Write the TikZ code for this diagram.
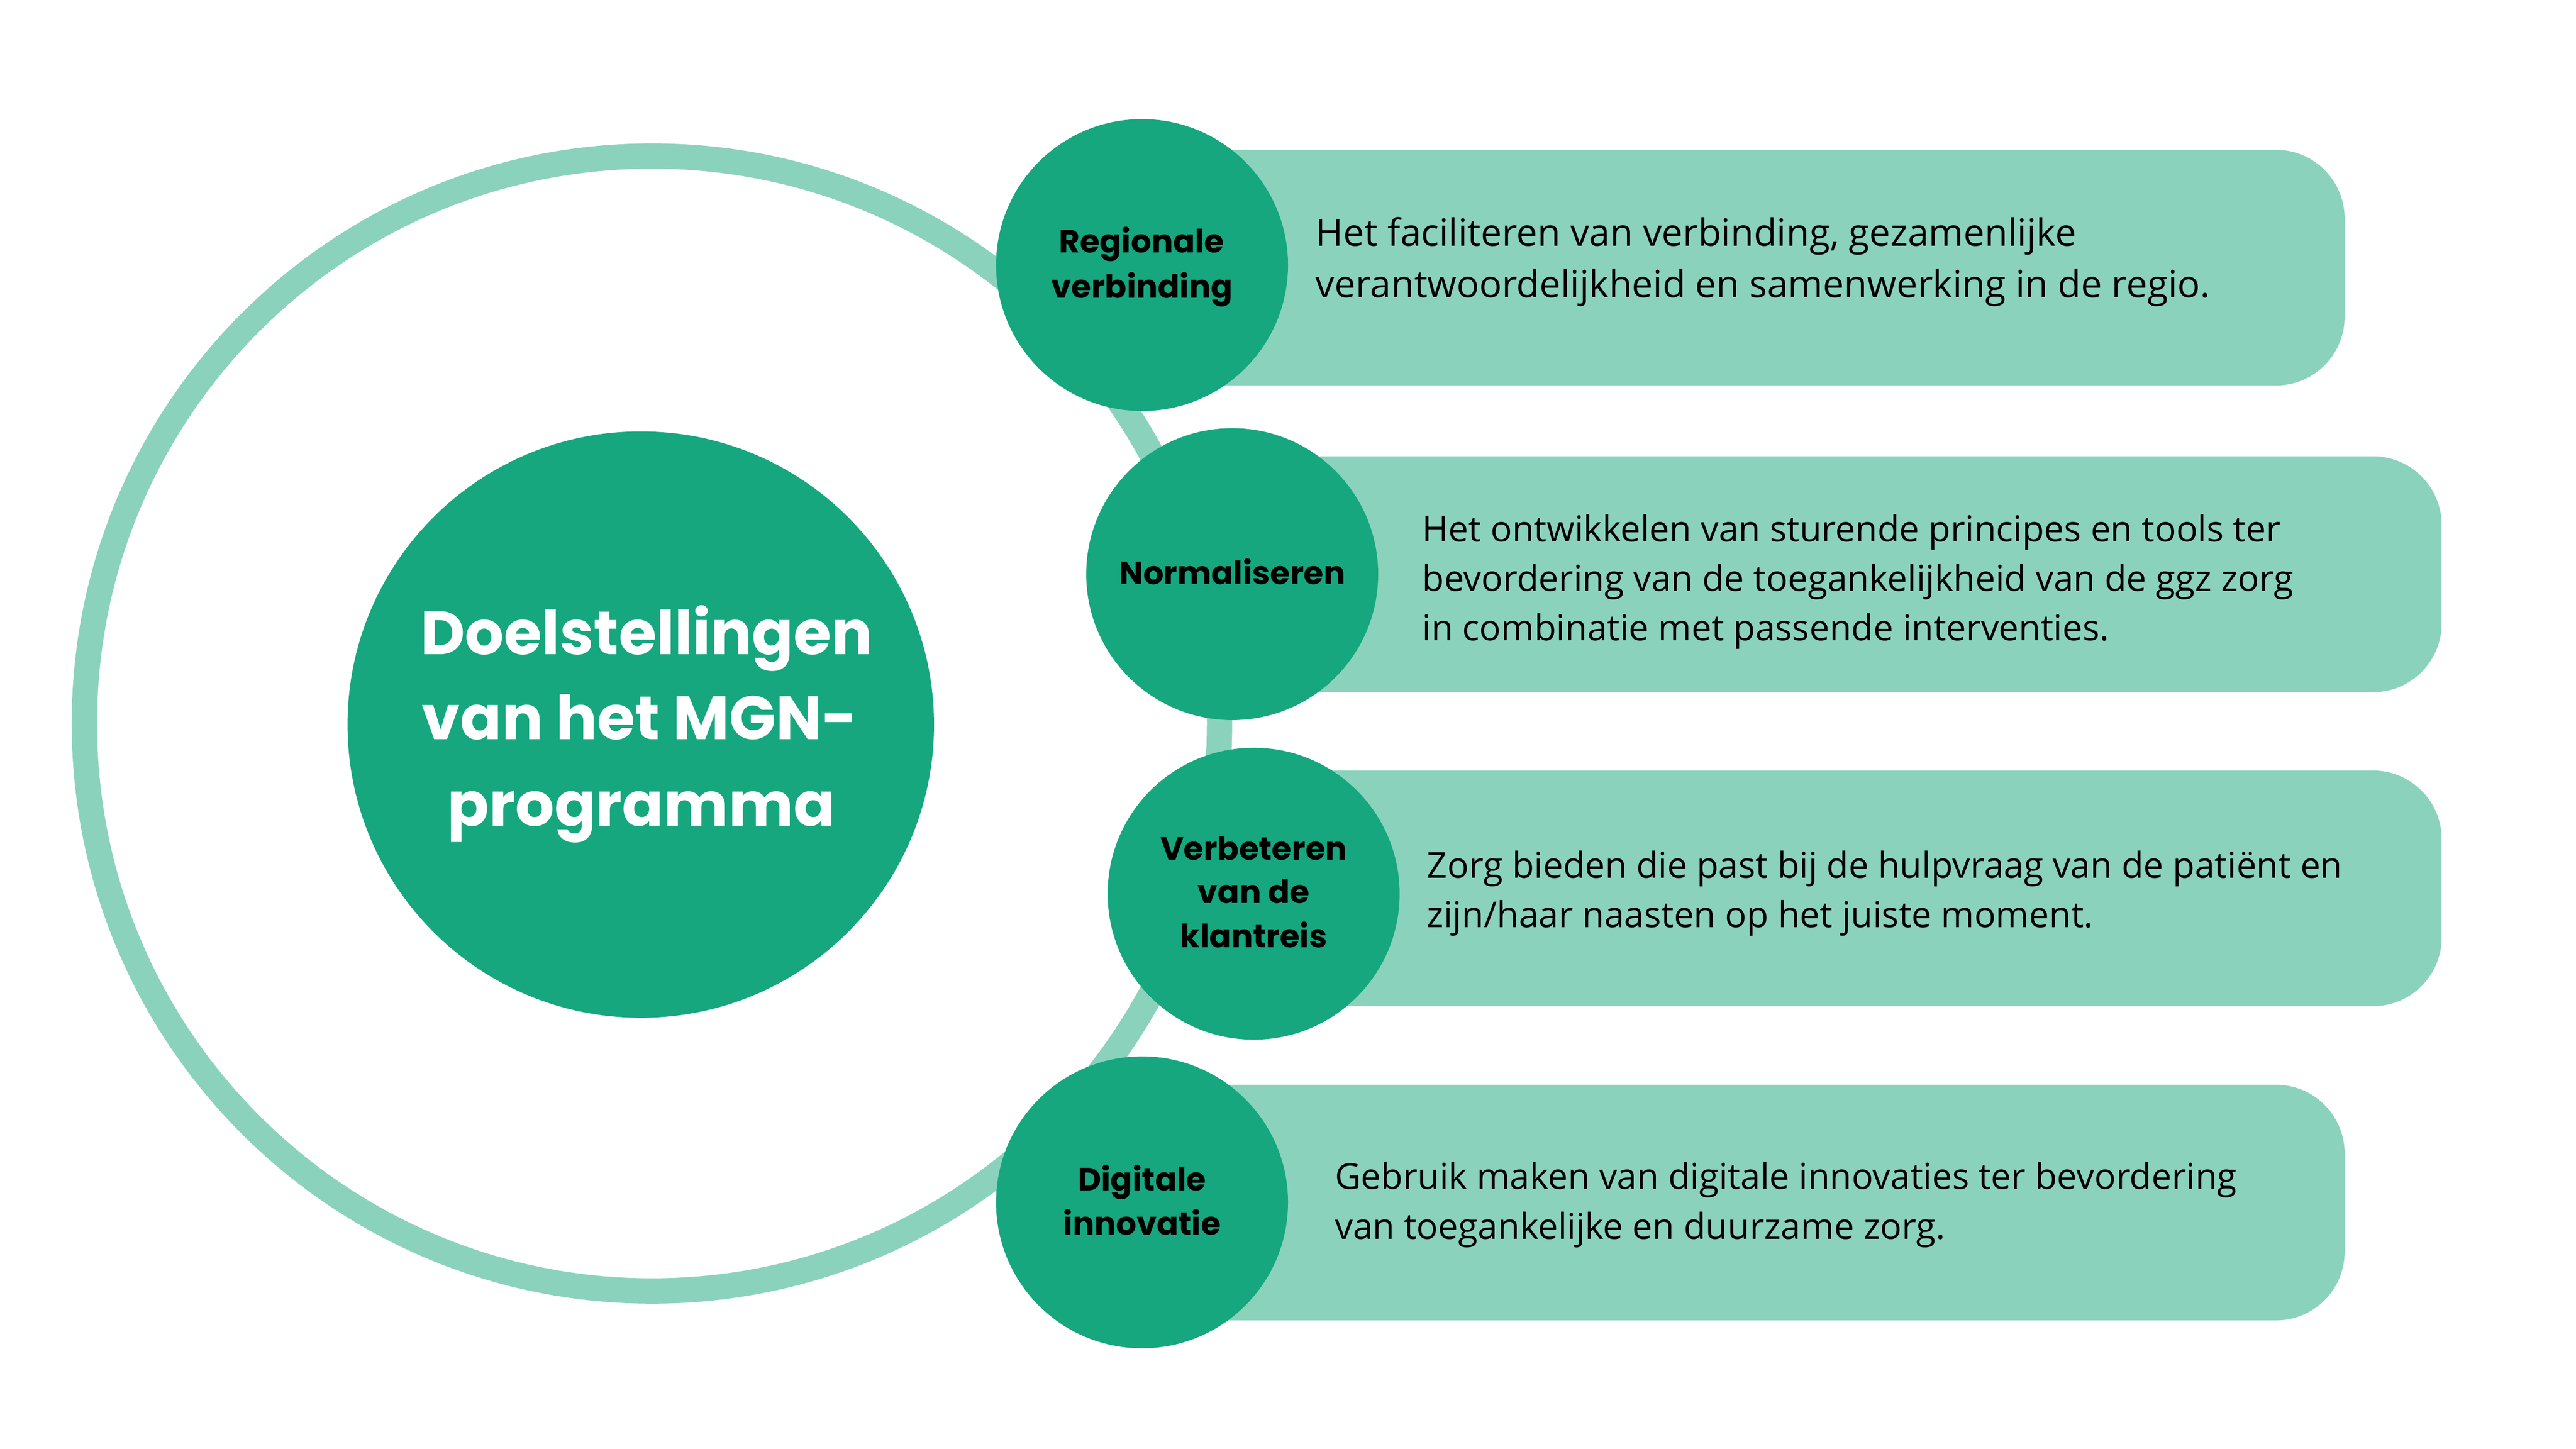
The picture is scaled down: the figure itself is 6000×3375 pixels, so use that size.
\documentclass[tikz,border=0pt]{standalone}
\usepackage{fontspec}
\newfontfamily\osans{Open Sans}
\newfontfamily\popp{Poppins}
\definecolor{dkgreen}{HTML}{16A77F}
\definecolor{ltgreen}{HTML}{8BD2BD}
\begin{document}
\begin{tikzpicture}[x=0.1mm,y=-0.1mm,
  ring/.style={draw=ltgreen,line width=5.9mm},
  bar/.style={fill=ltgreen,rounded corners=16mm},
  bigdot/.style={circle,fill=dkgreen,inner sep=0pt,minimum size=136.6mm},
  dot/.style={circle,fill=dkgreen,inner sep=0pt,minimum size=68mm},
  title/.style={font=\popp\bfseries\fontsize{40.6}{50}\selectfont,text=white,inner sep=0pt,anchor=base},
  lbl/.style={font=\popp\bfseries\fontsize{21.3}{26}\selectfont,text=black,inner sep=0pt,anchor=base},
  body/.style={font=\osans\fontsize{23.7}{28}\selectfont,text=black,inner sep=0pt,anchor=base west},
  bodyl/.style={body,font=\osans\fontsize{24.9}{29}\selectfont}]
\useasboundingbox[fill=white] (0,0) rectangle (6000,3375);
% outer ring
\draw[ring] (1518.5,1685.5) circle[radius=132.2mm];
% bars
\fill[bar] (2660,349) rectangle (5461,898);
\fill[bar] (2870,1063) rectangle (5687,1612.5);
\fill[bar] (2920,1795) rectangle (5687,2344);
\fill[bar] (2660,2527) rectangle (5461,3076);
% central circle
\node[bigdot] (hub) at (1492.5,1688) {};
\node[title] (h1) at (1506,1524) {Doelstellingen};
\node[title] (h2) at (1490,1723) {van het MGN-};
\node[title] (h3) at (1494,1924) {programma};
% small circles
\node[dot] (c1) at (2660,617.5) {};
\node[dot] (c2) at (2870,1337.5) {};
\node[dot] (c3) at (2920,2082) {};
\node[dot] (c4) at (2660,2801) {};
\node[lbl] (l1a) at (2659,589) {Regionale};
\node[lbl] (l1b) at (2660,694) {verbinding};
\node[lbl] (l2a) at (2870,1361) {Normaliseren};
\node[lbl] (l3a) at (2920,2003.6) {Verbeteren};
\node[lbl] (l3b) at (2920,2104.5) {van de};
\node[lbl] (l3c) at (2920,2207) {klantreis};
\node[lbl] (l4a) at (2660,2774) {Digitale};
\node[lbl] (l4b) at (2660,2877.5) {innovatie};
% texts
\node[bodyl] (t1a) at (3064,573) {Het faciliteren van verbinding, gezamenlijke};
\node[bodyl] (t1b) at (3064,693) {verantwoordelijkheid en samenwerking in de regio.};
\node[body] (t2a) at (3312,1262) {Het ontwikkelen van sturende principes en tools ter};
\node[body] (t2b) at (3312,1377) {bevordering van de toegankelijkheid van de ggz zorg};
\node[body] (t2c) at (3312,1492) {in combinatie met passende interventies.};
\node[body] (t3a) at (3323,2045) {Zorg bieden die past bij de hulpvraag van de patiënt en};
\node[body] (t3b) at (3323,2161) {zijn/haar naasten op het juiste moment.};
\node[body] (t4a) at (3109,2770) {Gebruik maken van digitale innovaties ter bevordering};
\node[body] (t4b) at (3109,2886) {van toegankelijke en duurzame zorg.};
\end{tikzpicture}
\end{document}
